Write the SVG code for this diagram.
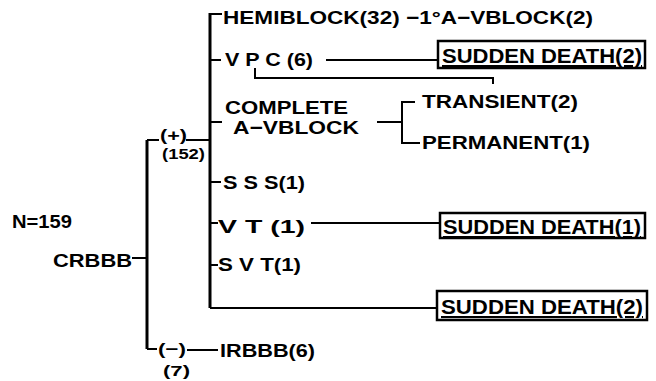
<svg xmlns="http://www.w3.org/2000/svg" width="656" height="381" viewBox="0 0 656 381">
<style>
text{font-family:"Liberation Sans",Arial,sans-serif;font-weight:bold;fill:#000;}
.t{font-size:19px;}
.p{font-size:17px;}
.s{font-size:14px;}
.sd{font-size:21px;text-decoration:underline;}
.c{stroke:#000;fill:none;stroke-width:2;}
.m{stroke:#000;fill:none;stroke-width:3;}
.box{stroke:#000;fill:#fff;stroke-width:2.5;}
</style>
<rect width="656" height="381" fill="#fff"/>
<g id="connectors">
<path class="m" d="M147,140 V349"/>
<path class="c" d="M147,140 H159 M147,349 H157"/>
<path class="m" d="M210,13 V308"/>
<path class="c" d="M210,14 H222 M210,60 H221 M210,122 H222 M210,182 H221 M210,223 H218 M210,265 H218 M210,308 H437"/>
<path class="c" d="M186,140 H210"/>
<path class="c" d="M132,258 H147"/>
<path class="c" d="M187,350 H218"/>
<path class="c" d="M326,60 H438"/>
<path class="c" d="M255,68 V78 H493 V84"/>
<path class="c" d="M377,122 H402"/>
<path class="c" d="M415,102 H402 V143 H420"/>
<path class="c" d="M311,223 H440"/>
</g>
<g id="n159"><text class="t" x="12" y="228" textLength="60" lengthAdjust="spacingAndGlyphs">N=159</text></g>
<g id="crbbb"><text class="t" x="53" y="267" textLength="79" lengthAdjust="spacingAndGlyphs">CRBBB</text></g>
<g id="plus"><text class="p" x="160" y="141" textLength="27" lengthAdjust="spacingAndGlyphs">(+)</text><text class="s" x="162" y="159" textLength="43" lengthAdjust="spacingAndGlyphs">(152)</text></g>
<g id="minus"><text class="p" x="158" y="355" textLength="28" lengthAdjust="spacingAndGlyphs">(−)</text><text class="s" x="163" y="376" textLength="27" lengthAdjust="spacingAndGlyphs">(7)</text></g>
<g id="irbbb"><text class="t" x="220" y="357" textLength="95" lengthAdjust="spacingAndGlyphs">IRBBB(6)</text></g>
<g id="hemiblock"><text class="t" x="223" y="24" textLength="370" lengthAdjust="spacingAndGlyphs">HEMIBLOCK(32) −1°A−VBLOCK(2)</text></g>
<g id="vpc"><text class="t" x="225" y="66" textLength="88" lengthAdjust="spacingAndGlyphs">V P C (6)</text></g>
<g id="sd1"><rect class="box" x="438" y="41" width="207" height="27"/><text class="sd" x="442" y="63" textLength="200" lengthAdjust="spacingAndGlyphs">SUDDEN DEATH(2)</text></g>
<g id="complete"><text class="t" x="225" y="114" textLength="123" lengthAdjust="spacingAndGlyphs">COMPLETE</text><text class="t" x="233" y="134" textLength="126" lengthAdjust="spacingAndGlyphs">A−VBLOCK</text></g>
<g id="transient"><text class="t" x="422" y="108" textLength="156" lengthAdjust="spacingAndGlyphs">TRANSIENT(2)</text></g>
<g id="permanent"><text class="t" x="422" y="149" textLength="168" lengthAdjust="spacingAndGlyphs">PERMANENT(1)</text></g>
<g id="sss"><text class="t" x="223" y="189" textLength="82" lengthAdjust="spacingAndGlyphs">S S S(1)</text></g>
<g id="vt"><text class="t" x="218" y="233" textLength="87" lengthAdjust="spacingAndGlyphs">V T  (1)</text></g>
<g id="sd2"><rect class="box" x="440" y="213" width="205" height="25"/><text class="sd" x="443" y="234" textLength="198" lengthAdjust="spacingAndGlyphs">SUDDEN DEATH(1)</text></g>
<g id="svt"><text class="t" x="218" y="271" textLength="83" lengthAdjust="spacingAndGlyphs">S V T(1)</text></g>
<g id="sd3"><rect class="box" x="437" y="291" width="210" height="29"/><text class="sd" x="441" y="314" textLength="202" lengthAdjust="spacingAndGlyphs">SUDDEN DEATH(2)</text></g>
</svg>
